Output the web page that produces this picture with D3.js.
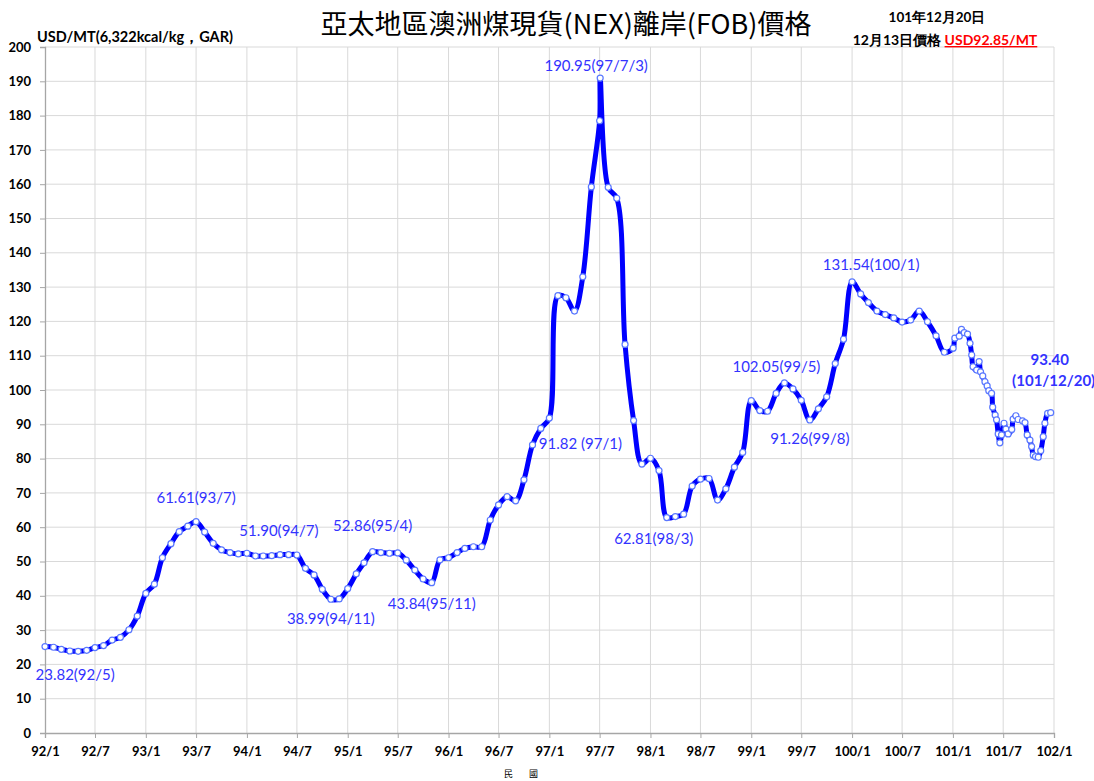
<!DOCTYPE html>
<html>
<head>
<meta charset="utf-8">
<script src="https://cdn.jsdelivr.net/npm/d3@7"></script>
<style>
  body { margin: 0; background: #fff; }
  svg text { font-family: Lato, "Noto Sans", sans-serif; }
</style>
</head>
<body>
<div id="chart"></div>
<script>
// monthly prices 92/1 .. 100/12 (ROC calendar), first of each month
var monthlyStart = "92/1";
var monthlyValues = [
  25.2, 25.0, 24.4, 23.9, 23.82, 24.1, 24.9, 25.5, 27.1, 27.9, 30.1, 34.1,
  40.7, 43.4, 51.1, 55.2, 58.7, 60.3, 61.61, 58.6, 55.3, 53.4, 52.6, 52.2,
  52.4, 51.6, 51.6, 51.7, 52.0, 52.0, 51.90, 48.0, 46.1, 41.9, 38.99, 39.1,
  42.1, 46.4, 49.6, 52.86, 52.6, 52.4, 52.5, 50.4, 47.5, 44.9, 43.84, 50.5,
  51.1, 52.6, 53.8, 54.3, 54.3, 62.1, 66.5, 68.9, 67.7, 73.8, 84.0, 88.8,
  91.82, 127.5, 126.9, 123.0, 133.0, 159.2, 178.5, 159.1, 155.9, 113.3, 91.1, 78.4,
  80.1, 76.5, 62.81, 63.1, 63.8, 72.0, 74.0, 74.2, 67.9, 71.2, 77.5, 81.8,
  96.9, 94.0, 93.8, 99.0, 102.05, 100.3, 97.0, 91.26, 94.5, 98.0, 107.7, 114.8,
  131.54, 128.0, 125.5, 123.0, 122.0, 121.0, 119.8, 120.4, 123.0, 119.9, 115.8, 111.0
];
// extra daily / weekly quotes
var extraDates = [
  "97/7/3",
  "101/1/2", "101/1/8", "101/1/24", "101/2/1", "101/2/11", "101/2/23", "101/3/3", "101/3/9",
  "101/3/14", "101/3/27", "101/4/5", "101/4/10", "101/4/18", "101/4/26", "101/5/4", "101/5/10",
  "101/5/20", "101/5/24", "101/6/2", "101/6/7", "101/6/13", "101/6/19", "101/6/25", "101/7/4",
  "101/7/11", "101/7/19", "101/8/1", "101/8/6", "101/8/16", "101/8/24", "101/9/9", "101/9/18",
  "101/9/26", "101/10/6", "101/10/12", "101/10/18", "101/10/26", "101/11/5", "101/11/14", "101/11/23",
  "101/11/29", "101/12/9", "101/12/20"
];
var extraValues = [
  190.95,
  112.2, 115.1, 115.7, 117.7, 116.7, 116.3, 113.6, 110.2,
  106.8, 105.8, 108.3, 105.3, 104.1, 102.4, 101.2, 99.8,
  99.0, 95.0, 92.7, 91.3, 87.2, 84.6, 86.9, 90.3,
  88.6, 87.2, 88.5, 91.5, 92.5, 91.4, 91.0, 90.5,
  86.9, 85.4, 83.5, 81.0, 80.6, 80.4, 82.3, 86.4,
  90.3, 93.2, 93.40
];
var xTickLabels = ["92/1","92/7","93/1","93/7","94/1","94/7","95/1","95/7","96/1","96/7",
  "97/1","97/7","98/1","98/7","99/1","99/7","100/1","100/7","101/1","101/7","102/1"];
var yTicks = d3.range(0, 201, 10);
var noteText = ["23.82(92/5)","61.61(93/7)","51.90(94/7)","38.99(94/11)","52.86(95/4)","43.84(95/11)",
  "91.82 (97/1)","190.95(97/7/3)","62.81(98/3)","102.05(99/5)","91.26(99/8)","131.54(100/1)"];
var noteDate = ["92/5","93/7","94/7","94/11","95/4","95/11","97/1","97/7/3","98/3","99/5","99/8","100/1"];
var noteValue = [23.82, 61.61, 51.90, 38.99, 52.86, 43.84, 91.82, 190.95, 62.81, 102.05, 91.26, 131.54];
var noteDx = [-3, 0, -18, 0, 0, 0, 31, -4, -13, -8, 0, 19];
var noteDy = [25, -22, -23, 21, -24, 23, 27, -11, 23, -15, 20, -16];

function roc(s) {
  var p = s.split("/").map(Number);
  return new Date(p[0] + 1911, p[1] - 1, p[2] || 1);
}

var data = monthlyValues.map(function(v, i) {
  var s = roc(monthlyStart);
  return { date: new Date(s.getFullYear(), s.getMonth() + i, 1), value: v };
});
extraDates.forEach(function(d, i) {
  data.push({ date: roc(d), value: extraValues[i] });
});
data.sort(function(a, b) { return a.date - b.date; });

var width = 1094, height = 781;
var margin = { top: 47, right: 40, bottom: 48, left: 45 };

var svg = d3.select("#chart").append("svg")
  .attr("width", width)
  .attr("height", height);

var x = d3.scaleTime()
  .domain([roc("92/1"), roc("102/1")])
  .range([margin.left, width - margin.right]);
var y = d3.scaleLinear()
  .domain([0, 200])
  .range([height - margin.bottom, margin.top]);

// grid
svg.append("g").selectAll("line").data(yTicks.slice(1)).enter().append("line")
  .attr("x1", margin.left).attr("x2", width - margin.right)
  .attr("y1", function(d) { return y(d); }).attr("y2", function(d) { return y(d); })
  .attr("stroke", "#d9d9d9").attr("stroke-width", 1);
svg.append("g").selectAll("line").data(xTickLabels.slice(1)).enter().append("line")
  .attr("x1", function(d) { return x(roc(d)); }).attr("x2", function(d) { return x(roc(d)); })
  .attr("y1", margin.top).attr("y2", height - margin.bottom)
  .attr("stroke", "#d9d9d9").attr("stroke-width", 1);

// axes
var xAxis = d3.axisBottom(x)
  .tickValues(xTickLabels.map(roc))
  .tickSize(5)
  .tickFormat(function(d, i) { return xTickLabels[i]; });
var gx = svg.append("g")
  .attr("transform", "translate(0," + (height - margin.bottom) + ")")
  .call(xAxis);
gx.select(".domain").attr("stroke", "#a6a6a6").attr("stroke-width", 1.3);
gx.selectAll(".tick line").attr("stroke", "#a6a6a6");
gx.selectAll("text").attr("dy", "1.15em").attr("font-size", 13).attr("font-weight", "bold").attr("fill", "#000");

var yAxis = d3.axisLeft(y).tickValues(yTicks).tickSize(5).tickPadding(9);
var gy = svg.append("g")
  .attr("transform", "translate(" + margin.left + ",0)")
  .call(yAxis);
gy.select(".domain").attr("stroke", "#a6a6a6").attr("stroke-width", 1.3);
gy.selectAll(".tick line").attr("stroke", "#a6a6a6");
gy.selectAll("text").attr("font-size", 13).attr("font-weight", "bold").attr("fill", "#000");

// line
var line = d3.line()
  .x(function(d) { return x(d.date); })
  .y(function(d) { return y(d.value); })
  .curve(d3.curveCatmullRom.alpha(0.5));

svg.append("path")
  .datum(data)
  .attr("fill", "none")
  .attr("stroke", "#0000ff")
  .attr("stroke-width", 5)
  .attr("stroke-linejoin", "round")
  .attr("d", line);

svg.append("g").selectAll("circle").data(data).enter().append("circle")
  .attr("cx", function(d) { return x(d.date); })
  .attr("cy", function(d) { return y(d.value); })
  .attr("r", 3)
  .attr("fill", "#fff")
  .attr("stroke", "#5a78ff")
  .attr("stroke-width", 1.2);

// point notes
svg.append("g").selectAll("text").data(noteText).enter().append("text")
  .attr("x", function(d, i) { return x(roc(noteDate[i])) + noteDx[i]; })
  .attr("y", function(d, i) { return y(noteValue[i]) + noteDy[i]; })
  .attr("text-anchor", "middle")
  .attr("dominant-baseline", "middle")
  .attr("font-size", 15)
  .attr("fill", "#3333ff")
  .text(function(d) { return d; });

var last = data[data.length - 1];
svg.append("text")
  .attr("x", x(last.date) - 1).attr("y", y(last.value) - 51)
  .attr("text-anchor", "middle").attr("font-size", 15).attr("font-weight", "bold")
  .attr("fill", "#3333ff").attr("dominant-baseline", "middle")
  .text(last.value.toFixed(2));
svg.append("text")
  .attr("x", x(last.date) + 3).attr("y", y(last.value) - 30)
  .attr("text-anchor", "middle").attr("font-size", 15).attr("font-weight", "bold")
  .attr("fill", "#3333ff").attr("dominant-baseline", "middle")
  .text("(101/12/20)");

// titles
svg.append("text")
  .attr("x", 566).attr("y", 34)
  .attr("text-anchor", "middle")
  .attr("font-size", 27)
  .style("font-family", "'Noto Sans CJK TC', serif")
  .text("亞太地區澳洲煤現貨(NEX)離岸(FOB)價格");

svg.append("text")
  .attr("x", 37).attr("y", 42)
  .attr("font-size", 14.5).attr("font-weight", "bold")
  .text("USD/MT(6,322kcal/kg，GAR)");

svg.append("text")
  .attr("x", 937).attr("y", 22)
  .attr("text-anchor", "middle")
  .attr("font-size", 13.5).attr("font-weight", "bold")
  .text("101年12月20日");

var sub = svg.append("text")
  .attr("x", 945).attr("y", 45)
  .attr("text-anchor", "middle")
  .attr("font-size", 14).attr("font-weight", "bold");
sub.append("tspan").text("12月13日價格 ");
sub.append("tspan").attr("fill", "#ff0000").attr("text-decoration", "underline").text("USD92.85/MT");

svg.append("text")
  .attr("x", 521).attr("y", 777)
  .attr("text-anchor", "middle")
  .attr("font-size", 9)
  .attr("xml:space", "preserve")
  .style("font-family", "'Noto Sans CJK TC', serif")
  .text("民        國");
</script>
</body>
</html>
